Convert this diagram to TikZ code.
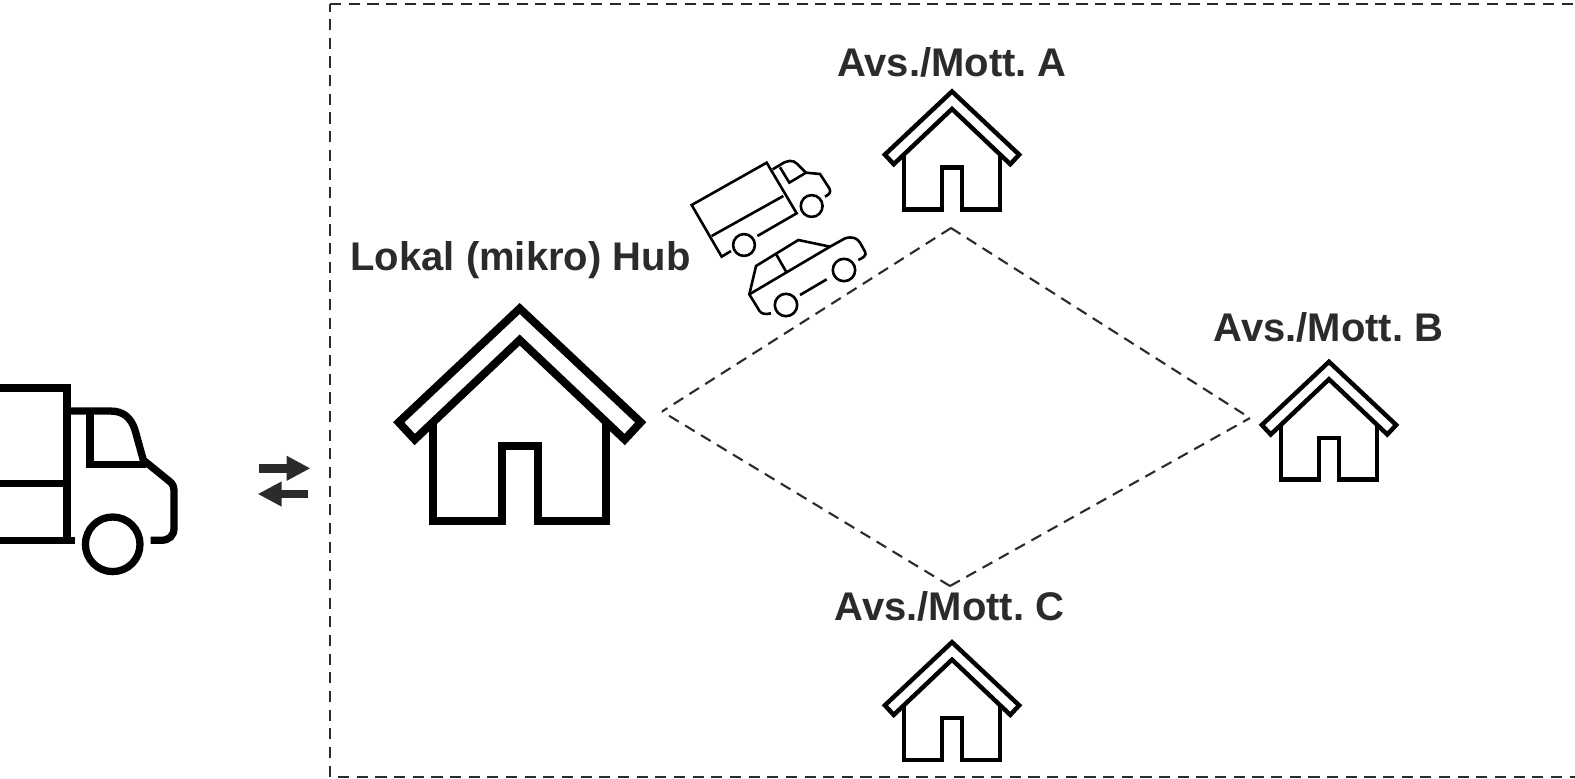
\documentclass[tikz,border=0pt]{standalone}
\usepackage{fontspec}
\setmainfont{Liberation Sans}
\usetikzlibrary{arrows.meta}
\definecolor{ink}{HTML}{2B2B2B}
\newcommand{\housepic}[3]{% apex x, apex y, scale
\begin{scope}[shift={(#1,#2)},scale=#3,line width=#3*4pt,draw=black,miter limit=10]
\draw (0,-1.5) -- (-121,112.3) -- (-105,129.5) -- (0,30) -- (105,129.5) -- (121,112.3) -- cycle;
\draw (-86.9,113) -- (-86.9,211) -- (-18.1,211) -- (-18.1,135.5) -- (18,135.5) -- (18,211) -- (86.3,211) -- (86.3,113);
\end{scope}}
\tikzset{
 lbl/.style={font=\bfseries\fontsize{20pt}{20pt}\selectfont,text=ink,inner sep=0pt},
 zonedash/.style={draw=ink,line width=1.2pt,dash pattern=on 5.6pt off 3.73pt},
 diadash/.style={draw=ink,line width=1.05pt,dash pattern=on 5.6pt off 3.73pt},
 icon/.style={draw=black,line width=1.3pt,line join=miter},
 bigicon/.style={draw=black,line width=3.65pt,line join=miter},
 swaparrow/.style={draw=ink,line width=4.35pt,-{Triangle[length=12pt,width=11.7pt]}}
}
\begin{document}
\frenchspacing
\begin{tikzpicture}[x=0.5pt,y=-0.5pt]
\useasboundingbox (0,0) rectangle (1575,778);
\clip (0,0) rectangle (1575,778);
% zone
\coordinate (zoneTL) at (330,4);
\coordinate (zoneTR) at (1590,4);
\coordinate (zoneBL) at (330,776.7);
\coordinate (zoneBS) at (338,776.7);
\coordinate (zoneBR) at (1590,776.7);
\draw[zonedash] (zoneTL) -- (zoneTR);
\draw[zonedash] (zoneBS) -- (zoneBR);
\draw[zonedash] (zoneBL) -- (zoneTL);
% diamond
\coordinate (dL) at (662,411.5);
\coordinate (dT) at (951,228);
\coordinate (dR) at (1250,418);
\coordinate (dB) at (950,586);
\draw[diadash] (dT) -- (dL);
\draw[diadash] (dT) -- (dR);
\draw[diadash] (dB) -- (dL);
\draw[diadash] (dB) -- (dR);
% houses
\housepic{519.7}{310}{1}
\housepic{952}{92.3}{0.555}
\housepic{1329}{362.6}{0.555}
\housepic{952}{643}{0.555}
% labels
\node[lbl] (hub) at (520.5,260) {Lokal (mikro) Hub};
\node[lbl] (a) at (952,62) {Avs./Mott. A};
\node[lbl] (b) at (1328.5,327) {Avs./Mott. B};
\node[lbl] (c) at (949.5,606.5) {Avs./Mott. C};
% big truck
\draw[bigicon] (-5,388) -- (67,388) -- (67,540.3);
\draw[bigicon] (-5,483.3) -- (67,483.3);
\draw[bigicon] (-5,540.3) -- (75,540.3);
\draw[bigicon] (67,411) -- (110,411) .. controls (124,411) and (131,418) .. (135,430) -- (143.3,460) -- (170,481.7) .. controls (173,484.5) and (174,487) .. (174,490) -- (174,528) .. controls (174,536) and (169,540.3) .. (161,540.3) -- (150.7,540.3);
\draw[bigicon] (90,411) -- (90,464.3) -- (145.7,464.3);
\node[bigicon,circle,minimum size=27.3pt,inner sep=0pt] (bw) at (112.7,544.3) {};
% swap arrows
\coordinate (s1a) at (259.3,468.3);
\coordinate (s1b) at (310.5,468.3);
\coordinate (s2a) at (308.3,494);
\coordinate (s2b) at (257.7,494);
\draw[swaparrow] (s1a) -- (s1b);
\draw[swaparrow] (s2a) -- (s2b);
% small vehicles
\begin{scope}[shift={(670,140)},x=0.16667pt,y=-0.16667pt]
\draw[icon] (183,333) -- (155,350) -- (65,195) -- (290,68) -- (380,220) -- (262,288);
\draw[icon] (125,288) -- (340,168);
\draw[icon] (308,88) -- (330,75) .. controls (352,60) and (368,58) .. (382,72) -- (408,98) -- (450,102) -- (478,145) .. controls (484,157) and (478,163) .. (465,170);
\draw[icon] (330,82) -- (358,128) -- (408,98);
\node[icon,circle,minimum size=10.9pt,inner sep=0pt] (w1) at (222,315) {};
\node[icon,circle,minimum size=10.9pt,inner sep=0pt] (w2) at (425,198) {};
\draw[icon] (303,520) .. controls (285,524) and (275,522) .. (268,512) -- (238,463) -- (258,378) -- (385,300) -- (480,320) -- (525,295) .. controls (548,288) and (562,295) .. (570,308) -- (585,335) .. controls (590,346) and (582,352) .. (565,360);
\draw[icon] (238,463) -- (480,320);
\draw[icon] (318,342) -- (350,398);
\draw[icon] (390,465) -- (470,418);
\node[icon,circle,minimum size=11.2pt,inner sep=0pt] (w3) at (348,495) {};
\node[icon,circle,minimum size=11.2pt,inner sep=0pt] (w4) at (522,390) {};
\end{scope}
\end{tikzpicture}
\end{document}
